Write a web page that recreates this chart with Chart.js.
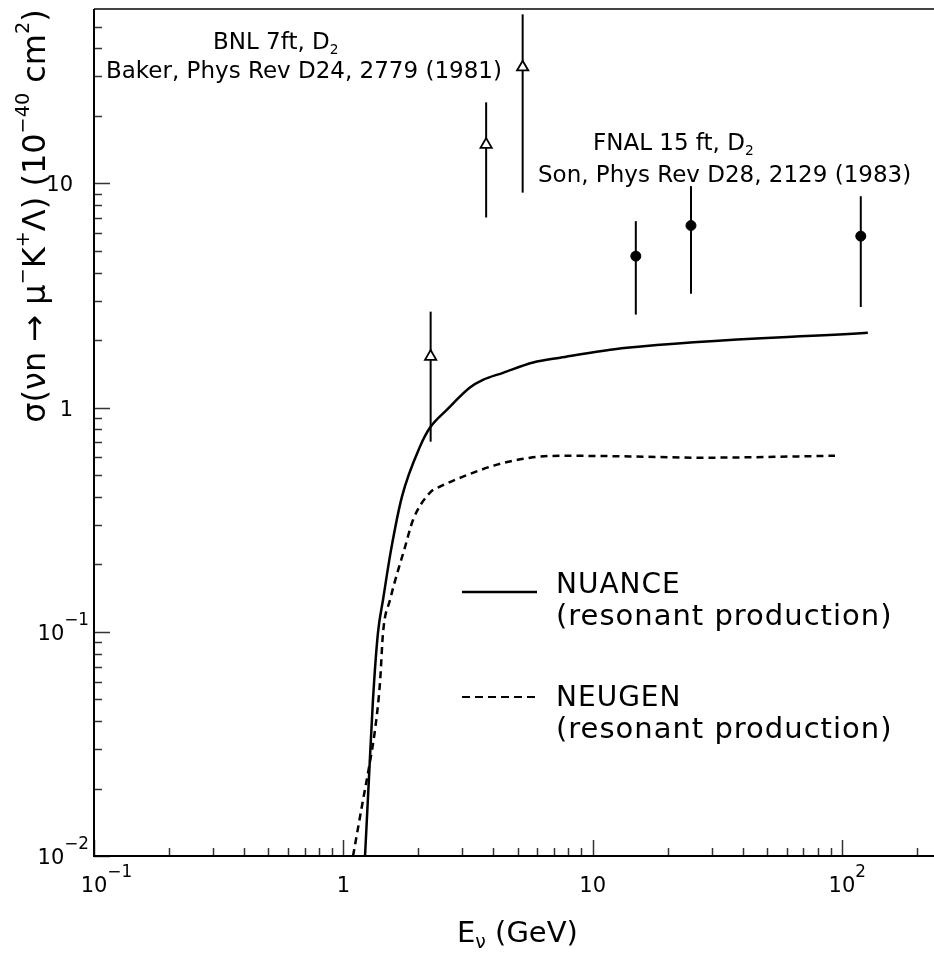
<!DOCTYPE html>
<html lang="en">
<head>
    <meta charset="UTF-8">
    <title>sigma(nu n -> mu- K+ Lambda)</title>
    <script src="https://cdn.jsdelivr.net/npm/chart.js"></script>
    <style>
        html, body { margin: 0; padding: 0; background: #fff; }
        canvas { display: block; }
    </style>
</head>
<body>
    <canvas id="xsecChart" width="934" height="953"></canvas>

    <script>
        // NUANCE curve (resonant production), E in GeV, sigma in 1e-40 cm^2
        const nuanceEnergy = [1.222, 1.268, 1.315, 1.377, 1.443, 1.554, 1.719, 2.03, 2.228, 2.606, 3.22, 3.63, 4.37, 5.77, 7.4, 13.7, 127];
        const nuanceSigma  = [0.01, 0.0226, 0.0497, 0.099, 0.139, 0.232, 0.401, 0.67, 0.815, 0.98, 1.23, 1.33, 1.43, 1.59, 1.67, 1.85, 2.16];

        // NEUGEN curve (resonant production)
        const neugenEnergy = [1.094, 1.2, 1.268, 1.34, 1.403, 1.443, 1.54, 1.768, 1.905, 2.228, 2.44, 3.02, 4.14, 5.61, 7.6, 14.1, 27, 93.8];
        const neugenSigma  = [0.01, 0.0178, 0.0249, 0.0365, 0.0591, 0.099, 0.139, 0.239, 0.316, 0.418, 0.444, 0.492, 0.557, 0.598, 0.61, 0.606, 0.598, 0.61];

        // BNL 7ft, D2 (Baker 1981)
        const bnlEnergy = [2.24, 3.74, 5.24];
        const bnlSigma  = [1.69, 14.9, 33];
        const bnlLow    = [0.705, 7.05, 9.1];
        const bnlHigh   = [2.68, 23, 56.8];

        // FNAL 15 ft, D2 (Son 1983)
        const fnalEnergy = [14.9, 24.8, 119];
        const fnalSigma  = [4.74, 6.49, 5.82];
        const fnalLow    = [2.6, 3.22, 2.81];
        const fnalHigh   = [6.79, 9.73, 8.77];

        // Axis ranges and labelled decades
        const xRange = [0.1, 234];
        const yRange = [0.01, 60];
        const xTickValues = [0.1, 1, 10, 100];
        const xTickLabels = [['10', '\u22121'], ['1'], ['10'], ['10', '2']];
        const yTickValues = [0.01, 0.1, 1, 10];
        const yTickLabels = [['10', '\u22122'], ['10', '\u22121'], ['1'], ['10']];

        const FONT = '"DejaVu Sans", "Noto Sans", sans-serif';

        // Small rich-text helper: parts are [text, kind] with kind '', 'sup' or 'sub'
        const rich = {
            font(size) { return size + 'px ' + FONT; },
            sizeOf(kind, size, o) {
                if (kind === 'sup') return size * o.supScale;
                if (kind === 'sub') return size * o.subScale;
                return size;
            },
            width(ctx, parts, size, o) {
                let w = 0;
                parts.forEach(([t, kind]) => {
                    ctx.font = this.font(this.sizeOf(kind, size, o));
                    w += ctx.measureText(t).width;
                });
                return w;
            },
            draw(ctx, parts, x, y, size, align, opts) {
                const o = Object.assign({ supScale: 0.7, supRise: 0.45, subScale: 0.65, subDrop: 0.2 }, opts || {});
                const w = this.width(ctx, parts, size, o);
                let cx = align === 'center' ? x - w / 2 : align === 'right' ? x - w : x;
                ctx.save();
                ctx.fillStyle = '#000';
                ctx.textAlign = 'left';
                ctx.textBaseline = 'alphabetic';
                parts.forEach(([t, kind]) => {
                    ctx.font = this.font(this.sizeOf(kind, size, o));
                    let dy = 0;
                    if (kind === 'sup') dy = -size * o.supRise;
                    if (kind === 'sub') dy = size * o.subDrop;
                    ctx.fillText(t, cx, y + dy);
                    cx += ctx.measureText(t).width;
                });
                ctx.restore();
                return w;
            }
        };

        const toParts = (arr) => arr.map((t, i) => [t, i === 0 ? '' : 'sup']);

        function minorTicks(range) {
            const out = [];
            for (let d = 1e-3; d < 1e4; d *= 10) {
                for (let m = 2; m <= 9; m++) {
                    const v = +(m * d).toPrecision(3);
                    if (v > range[0] && v < range[1]) out.push(v);
                }
            }
            return out;
        }

        // Error bars, drawn under the markers
        const errorBars = {
            id: 'errorBars',
            beforeDatasetsDraw(chart) {
                const ctx = chart.ctx;
                const xs = chart.scales.x, ys = chart.scales.y;
                ctx.save();
                ctx.strokeStyle = '#000';
                ctx.lineWidth = 2;
                const bars = (E, lo, hi) => E.forEach((e, i) => {
                    const px = xs.getPixelForValue(e);
                    ctx.beginPath();
                    ctx.moveTo(px, ys.getPixelForValue(lo[i]));
                    ctx.lineTo(px, ys.getPixelForValue(hi[i]));
                    ctx.stroke();
                });
                bars(bnlEnergy, bnlLow, bnlHigh);
                bars(fnalEnergy, fnalLow, fnalHigh);
                ctx.restore();
            }
        };

        // Frame, inward ticks, tick labels, axis titles, notes and legend
        const decorations = {
            id: 'decorations',
            afterDatasetsDraw(chart) {
                const ctx = chart.ctx;
                const a = chart.chartArea;
                const xs = chart.scales.x, ys = chart.scales.y;
                ctx.save();

                // top border
                ctx.strokeStyle = '#444';
                ctx.lineWidth = 2;
                ctx.beginPath();
                ctx.moveTo(a.left, a.top);
                ctx.lineTo(a.right, a.top);
                ctx.stroke();

                // ticks
                ctx.strokeStyle = '#333';
                ctx.lineWidth = 1.5;
                const xTick = (v, len) => {
                    const px = Math.round(xs.getPixelForValue(v)) + 0.5;
                    ctx.beginPath(); ctx.moveTo(px, a.bottom); ctx.lineTo(px, a.bottom - len); ctx.stroke();
                };
                const yTick = (v, len) => {
                    const py = Math.round(ys.getPixelForValue(v)) + 0.5;
                    ctx.beginPath(); ctx.moveTo(a.left, py); ctx.lineTo(a.left + len, py); ctx.stroke();
                };
                minorTicks(xRange).forEach(v => xTick(v, 8));
                xTickValues.forEach(v => xTick(v, 16));
                minorTicks(yRange).forEach(v => yTick(v, 8));
                yTickValues.forEach(v => yTick(v, 16));

                // left and bottom axis lines
                ctx.strokeStyle = '#000';
                ctx.lineWidth = 2;
                ctx.beginPath();
                ctx.moveTo(a.left, a.top);
                ctx.lineTo(a.left, a.bottom);
                ctx.lineTo(a.right, a.bottom);
                ctx.stroke();

                // tick labels
                const tickOpts = { supScale: 0.8, supRise: 0.7 };
                xTickValues.forEach((v, i) => {
                    const px = xs.getPixelForValue(v);
                    const parts = toParts(xTickLabels[i]);
                    ctx.font = rich.font(21);
                    const baseW = ctx.measureText(parts[0][0]).width;
                    rich.draw(ctx, parts, px - baseW / 2, 892, 21, 'left', tickOpts);
                });
                yTickValues.forEach((v, i) => {
                    const py = ys.getPixelForValue(v);
                    const parts = toParts(yTickLabels[i]);
                    rich.draw(ctx, parts, parts.length > 1 ? 89 : 73, py + 8, 21, 'right', tickOpts);
                });

                // axis titles
                rich.draw(ctx, [['E', ''], ['\u03BD', 'sub'], [' (GeV)', '']], 457, 942, 29, 'left',
                    { subScale: 0.65, subDrop: 0.22 });
                ctx.save();
                ctx.translate(45, 216);
                ctx.rotate(-Math.PI / 2);
                rich.draw(ctx, [['\u03C3(\u03BDn \u2192 \u03BC', ''], ['\u2212', 'sup'], ['K', ''], ['+', 'sup'],
                    ['\u039B) (10', ''], ['\u221240', 'sup'], [' cm', ''], ['2', 'sup'], [')', '']],
                    0, 0, 32, 'center', { supScale: 0.6, supRise: 0.5 });
                ctx.restore();

                // experiment notes
                const subOpts = { subScale: 0.6, subDrop: 0.2 };
                rich.draw(ctx, [['BNL 7ft, D', ''], ['2', 'sub']], 213, 49, 23, 'left', subOpts);
                rich.draw(ctx, [['Baker, Phys Rev D24, 2779 (1981)', '']], 106, 78, 23, 'left');
                rich.draw(ctx, [['FNAL 15 ft, D', ''], ['2', 'sub']], 593, 150, 23, 'left', subOpts);
                rich.draw(ctx, [['Son, Phys Rev D28, 2129 (1983)', '']], 538, 182, 23, 'left');

                // legend
                ctx.strokeStyle = '#000';
                ctx.lineWidth = 2.5;
                ctx.beginPath(); ctx.moveTo(462, 592); ctx.lineTo(537, 592); ctx.stroke();
                ctx.lineWidth = 2;
                ctx.setLineDash([8, 5]);
                ctx.beginPath(); ctx.moveTo(462, 697); ctx.lineTo(537, 697); ctx.stroke();
                ctx.setLineDash([]);
                ctx.letterSpacing = '1px';
                rich.draw(ctx, [['NUANCE', '']], 556, 593, 28, 'left');
                rich.draw(ctx, [['(resonant production)', '']], 556, 625, 29, 'left');
                rich.draw(ctx, [['NEUGEN', '']], 556, 706, 28, 'left');
                rich.draw(ctx, [['(resonant production)', '']], 556, 738, 29, 'left');
                ctx.letterSpacing = '0px';

                ctx.restore();
            }
        };

        const toXY = (xsArr, ysArr) => xsArr.map((x, i) => ({ x: x, y: ysArr[i] }));

        const ctx = document.getElementById('xsecChart').getContext('2d');
        const chart = new Chart(ctx, {
            type: 'scatter',
            data: {
                datasets: [
                    {
                        label: 'NUANCE',
                        data: toXY(nuanceEnergy, nuanceSigma),
                        showLine: true,
                        borderColor: '#000',
                        borderWidth: 2.5,
                        pointRadius: 0,
                        cubicInterpolationMode: 'monotone'
                    },
                    {
                        label: 'NEUGEN',
                        data: toXY(neugenEnergy, neugenSigma),
                        showLine: true,
                        borderColor: '#000',
                        borderWidth: 2.5,
                        borderDash: [7, 5],
                        pointRadius: 0,
                        cubicInterpolationMode: 'monotone'
                    },
                    {
                        label: 'BNL 7ft, D2',
                        data: toXY(bnlEnergy, bnlSigma),
                        pointStyle: 'triangle',
                        pointRadius: 6.5,
                        pointBackgroundColor: '#fff',
                        pointBorderColor: '#000',
                        pointBorderWidth: 1.8
                    },
                    {
                        label: 'FNAL 15 ft, D2',
                        data: toXY(fnalEnergy, fnalSigma),
                        pointStyle: 'circle',
                        pointRadius: 5,
                        pointBackgroundColor: '#000',
                        pointBorderColor: '#000',
                        pointBorderWidth: 1
                    }
                ]
            },
            options: {
                responsive: false,
                animation: false,
                devicePixelRatio: 1,
                layout: { autoPadding: false, padding: { left: 94, top: 9, right: 0, bottom: 97 } },
                plugins: {
                    legend: { display: false },
                    tooltip: { enabled: false }
                },
                scales: {
                    x: { type: 'logarithmic', min: xRange[0], max: xRange[1], display: false },
                    y: { type: 'logarithmic', min: yRange[0], max: yRange[1], display: false }
                }
            },
            plugins: [errorBars, decorations]
        });
    </script>
</body>
</html>
